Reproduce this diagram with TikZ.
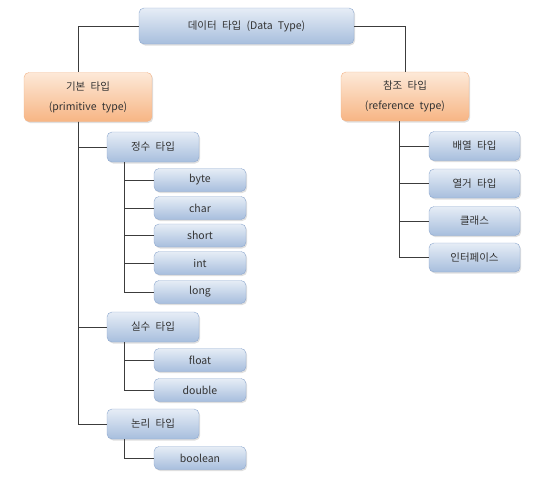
\documentclass[tikz,border=0pt]{standalone}
\usepackage{fontspec}
\setmainfont{Noto Sans CJK KR}
\usetikzlibrary{positioning, shadows}
\usepackage{xcolor}

\definecolor{boxtop}{HTML}{E6EDF6}
\definecolor{boxbot}{HTML}{A7BEDD}
\definecolor{boxline}{HTML}{8FA9CF}
\definecolor{orgtop}{HTML}{FDE9D8}
\definecolor{orgbot}{HTML}{F7B584}
\definecolor{orgline}{HTML}{F2B489}
\definecolor{wire}{HTML}{3C3C3C}

\newcommand\boxfont{\fontsize{10.5}{12}\selectfont\spaceskip=0.5em\relax}
\newcommand\kindfont{\fontsize{10.5}{20}\selectfont\spaceskip=0.5em\relax}

\tikzset{
  typebox/.style={draw=boxline, rounded corners=5pt, top color=boxtop, bottom color=boxbot,
    text=black!80, font=\boxfont, inner sep=0pt,
    drop shadow={opacity=0.25, shadow xshift=1.2pt, shadow yshift=-1.5pt}},
  rootbox/.style={typebox, minimum width=215pt, minimum height=36pt},
  kindbox/.style={typebox, draw=orgline, top color=orgtop, bottom color=orgbot,
    minimum width=128pt, minimum height=49pt, align=center, font=\kindfont},
  groupbox/.style={typebox, minimum width=92pt, minimum height=30pt},
  leafbox/.style={typebox, minimum width=92pt, minimum height=23pt},
  refbox/.style={typebox, minimum width=91pt, minimum height=29pt},
  wire/.style={draw=wire, line width=0.7pt}
}

\begin{document}
\begin{tikzpicture}[x=1pt, y=-1pt]
  \useasboundingbox (0,0) rectangle (539,499);

  % top
  \node[rootbox] (data) at (246.5,26) {데이터 타입 (Data Type)};
  \node[kindbox] (prim) at (88,97) {기본 타입\\(primitive type)};
  \node[kindbox] (refer) at (405,96.5) {참조 타입\\(reference type)};

  % primitive types
  \node[groupbox] (integer) at (153,147) {정수 타입};
  \node[leafbox] (byte) at (200,180) {byte};
  \node[leafbox] (char) at (200,208) {char};
  \node[leafbox] (short) at (200,235.5) {short};
  \node[leafbox] (int) at (200,263) {int};
  \node[leafbox] (long) at (200,292) {long};
  \node[groupbox] (real) at (153,327) {실수 타입};
  \node[leafbox] (float) at (200,360) {float};
  \node[leafbox] (double) at (200,390) {double};
  \node[groupbox] (logic) at (153,424) {논리 타입};
  \node[leafbox] (boolean) at (200,458) {boolean};

  % reference types
  \node[refbox] (array) at (474.5,146) {배열 타입};
  \node[refbox] (enum) at (474.5,183.5) {열거 타입};
  \node[refbox] (class) at (474.5,221) {클래스};
  \node[refbox] (iface) at (474.5,257.5) {인터페이스};

  % connectors
  \draw[wire] (data.west) -| ([xshift=-10pt]prim.north);
  \draw[wire] (data.east) -| (refer.north);
  \foreach \g in {integer, real, logic}
    \draw[wire] ([xshift=-10pt]prim.south) |- (\g.west);
  \foreach \t in {byte, char, short, int, long}
    \draw[wire] ([xshift=-29pt]integer.south) |- (\t.west);
  \foreach \t in {float, double}
    \draw[wire] ([xshift=-29pt]real.south) |- (\t.west);
  \draw[wire] ([xshift=-29pt]logic.south) |- (boolean.west);
  \foreach \t in {array, enum, class, iface}
    \draw[wire] ([xshift=-6pt]refer.south) |- (\t.west);
\end{tikzpicture}
\end{document}
